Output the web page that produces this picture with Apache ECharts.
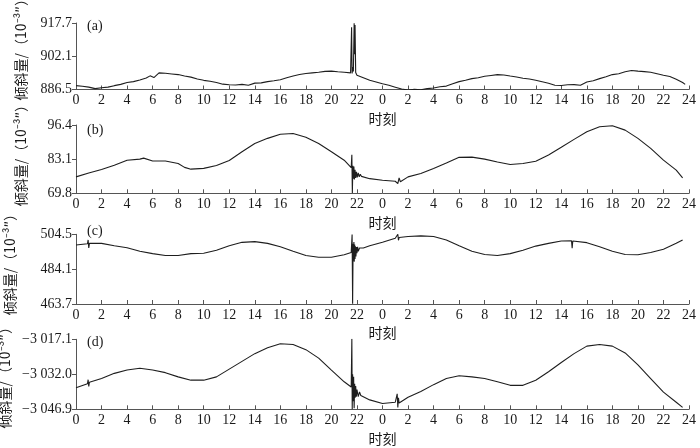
<!DOCTYPE html>
<html><head><meta charset="utf-8">
<script src="https://cdn.jsdelivr.net/npm/echarts@6/dist/echarts.min.js"></script>
<style>html,body{margin:0;padding:0;background:#fff}#c{width:700px;height:448px}</style>
</head><body><div id="c"></div>
<script>
// x tick labels (hours over two days)
const xTickLabels = ['0','2','4','6','8','10','12','14','16','18','20','22','0','2','4','6','8','10','12','14','16','18','20','22','24'];
const panelLabels = ['(a)','(b)','(c)','(d)'];
const yName = '倾斜量/（10⁻³″）';
const xName = '时刻';

// y tick values/labels per panel
const yTickValsA = [886.5, 902.1, 917.7];
const yTickLabsA = ['886.5', '902.1', '917.7'];
const yTickValsB = [69.8, 83.1, 96.4];
const yTickLabsB = ['69.8', '83.1', '96.4'];
const yTickValsC = [463.7, 484.1, 504.5];
const yTickLabsC = ['463.7', '484.1', '504.5'];
const yTickValsD = [-3046.9, -3032.0, -3017.1];
const yTickLabsD = ['−3 046.9', '−3 032.0', '−3 017.1'];

// panel (a)
const hoursA = [0,0.5,1,1.5,2,2.5,3,3.5,4,4.5,5,5.5,5.8,6.1,6.5,7,7.5,8,8.5,9,9.5,10,10.5,11,11.5,12,12.5,13,13.5,14,14.5,15,15.5,16,16.5,17,17.5,18,18.5,19,19.5,20,20.5,21,21.5,21.55,21.58,21.62,21.68,21.72,21.78,21.81,21.85,21.9,22.0,22.5,23,23.5,24,24.5,25,25.5,26,26.5,27,27.5,28,28.5,29,29.5,30,30.5,31,31.5,32,32.5,33,33.5,34,34.5,35,35.5,36,36.5,37,37.5,38,38.5,39,39.5,40,40.5,41,41.5,42,42.5,43,43.5,44,44.5,45,45.5,46,46.5,47,47.5,47.7];
const tiltA = [888.3,888.0,887.6,886.9,887.3,887.6,888.3,888.9,889.8,890.2,891.0,891.9,892.9,892.1,894.3,894.1,893.8,893.5,892.8,892.3,891.4,890.8,890.4,889.8,889.0,888.7,888.6,888.9,888.5,889.5,889.6,890.2,890.6,891.1,892.0,892.8,893.5,894.0,894.3,894.6,895.0,895.1,894.8,894.6,894.3,894.8,915.7,894.0,897.0,895.0,917.6,903.0,916.8,894.5,893.2,892.0,890.8,890.0,889.2,888.5,887.6,886.7,886.3,886.6,886.4,886.9,887.2,887.8,888.1,889.2,890.2,890.8,891.6,892.0,892.7,893.1,893.5,893.3,892.8,892.4,891.8,891.4,890.8,890.1,889.4,888.5,888.4,888.7,888.8,888.5,890.0,890.6,891.6,892.5,893.5,893.9,894.8,895.4,895.1,894.9,894.6,893.9,893.2,892.6,891.3,889.8,888.9];

// panel (b)
const hoursB = [0,1,2,3,4,5,5.3,6,7,8,8.5,9,10,11,12,13,14,15,16,17,18,19,20,21,21.55,21.6,21.64,21.68,21.72,21.76,21.8,21.85,21.9,21.96,22.02,22.1,22.18,22.26,22.35,22.5,23,24,25,25.2,25.3,25.4,26,27,28,29,30,31,32,33,34,35,36,37,38,39,40,41,42,43,44,45,46,47,47.5];
const tiltB = [76.2,77.7,79.1,80.7,82.7,83.1,83.5,82.4,82.4,81.4,79.9,79.2,79.5,80.6,82.6,86.0,89.2,91.2,92.8,93.1,91.6,89.2,86.0,82.7,79.8,84.8,69.9,80.5,75.5,80.2,75.2,79.0,75.8,78.2,76.0,77.8,76.2,77.2,76.4,76.2,75.5,74.9,74.5,73.6,75.8,74.3,76.2,77.5,79.5,81.6,83.8,83.9,83.1,82.0,81.0,81.4,82.3,84.7,87.7,90.8,93.8,95.7,96.1,94.4,91.2,87.3,82.7,78.8,75.8];

// panel (c)
const hoursC = [0,0.9,0.95,1.0,1.05,2,3,4,5,6,7,8,9,10,11,12,13,14,15,16,17,18,19,20,21,21.55,21.62,21.66,21.7,21.73,21.76,21.79,21.82,21.85,21.88,21.92,21.96,22.0,22.05,22.1,22.2,22.3,22.5,23,24,25,25.2,25.25,25.3,26,27,28,29,30,31,32,33,34,35,36,37,38,38.8,38.85,38.9,39,40,41,42,43,44,45,46,47,47.5];
const tiltC = [498.2,499.0,501.2,496.5,499.2,499.2,497.8,496.6,494.6,493.2,492.1,492.1,493.2,493.4,495.2,497.8,499.8,500.2,499.2,497.2,494.6,492.1,491.1,491.1,492.5,493.8,504.4,463.8,499.0,489.0,500.0,488.5,498.5,490.0,497.5,491.5,497.0,493.5,497.2,494.5,496.5,495.5,496.5,497.8,499.8,502.2,504.5,501.0,502.6,503.2,503.6,503.2,501.2,497.8,494.6,492.7,492.1,493.2,495.2,497.6,499.2,500.6,500.7,496.3,500.6,500.6,499.6,497.2,494.6,492.7,492.5,493.8,495.8,499.2,501.2];

// panel (d)
const hoursD = [0,0.9,0.95,1.0,1.05,2,3,4,5,6,7,8,9,10,11,12,13,14,15,16,17,18,19,20,21,21.55,21.6,21.63,21.66,21.7,21.74,21.78,21.82,21.86,21.9,21.95,22.0,22.1,22.2,22.3,23,24,25,25.15,25.2,25.25,25.3,26,27,28,29,30,31,32,33,34,35,36,37,38,39,40,41,42,43,44,45,46,47,47.5];
const tiltD = [-3037.7,-3036.0,-3034.3,-3037.2,-3035.4,-3033.8,-3031.6,-3030.2,-3029.4,-3030.2,-3031.3,-3033.1,-3034.5,-3034.5,-3033.1,-3029.8,-3026.5,-3023.2,-3020.7,-3019.0,-3019.3,-3021.5,-3025.1,-3030.2,-3035.2,-3037.4,-3016.9,-3046.9,-3032.0,-3043.5,-3033.0,-3046.5,-3036.0,-3042.0,-3037.0,-3041.5,-3038.5,-3041.5,-3039.5,-3041.0,-3042.9,-3044.4,-3043.9,-3040.3,-3046.1,-3042.0,-3044.2,-3041.8,-3039.3,-3036.4,-3033.8,-3032.6,-3033.1,-3033.8,-3035.2,-3036.7,-3036.7,-3034.5,-3030.9,-3027.0,-3023.2,-3020.0,-3019.3,-3020.0,-3022.9,-3028.0,-3033.8,-3039.6,-3043.9,-3046.1];

const zip = (xs, ys) => xs.map((x, i) => [x, ys[i]]);
const NUMFONT = "'Liberation Serif', 'Noto Sans CJK SC', serif";
const CJKFONT = "'Noto Sans CJK SC', sans-serif";
const TXT = '#1a1a1a';
const AX = '#555';

const panels = [
  {hours: hoursA, vals: tiltA, tv: yTickValsA, tl: yTickLabsA, top: 23, h: 66.5, gap: 48, pad: 20},
  {hours: hoursB, vals: tiltB, tv: yTickValsB, tl: yTickLabsB, top: 125, h: 68.3, gap: 48, pad: 14},
  {hours: hoursC, vals: tiltC, tv: yTickValsC, tl: yTickLabsC, top: 234.3, h: 69.7, gap: 59, pad: 16},
  {hours: hoursD, vals: tiltD, tv: yTickValsD, tl: yTickLabsD, top: 339.3, h: 70, gap: 59, pad: 0}
];

const grid = [], xAxis = [], yAxis = [], series = [], title = [];
panels.forEach((p, i) => {
  grid.push({left: 76, right: 11, top: p.top, height: p.h, containLabel: false, outerBoundsMode: 'none'});
  xAxis.push({
    type: 'value', gridIndex: i, min: 0, max: 48, interval: 2,
    name: xName, nameLocation: 'middle', nameGap: 22,
    nameTextStyle: {fontFamily: CJKFONT, fontSize: 14, color: TXT},
    axisLine: {show: true, lineStyle: {color: AX, width: 1}},
    axisTick: {show: true, inside: true, length: 4, lineStyle: {color: AX}},
    axisLabel: {fontFamily: NUMFONT, fontSize: 14, color: TXT, margin: 4,
      formatter: v => xTickLabels[Math.round(v / 2)]},
    splitLine: {show: false}
  });
  const tv = p.tv, tl = p.tl;
  yAxis.push({
    type: 'value', gridIndex: i, min: tv[0], max: tv[2],
    name: yName, nameLocation: 'middle', nameGap: p.gap, nameRotate: 90,
    nameTextStyle: {fontFamily: CJKFONT, fontSize: 14, color: TXT, padding: [0, 0, 0, p.pad]},
    axisLine: {show: true, lineStyle: {color: AX, width: 1}},
    axisTick: {show: true, inside: false, length: 4, lineStyle: {color: AX}, customValues: tv},
    axisLabel: {fontFamily: NUMFONT, fontSize: 14, color: TXT, margin: 4, customValues: tv,
      formatter: v => {
        let best = 0;
        tv.forEach((t, k) => { if (Math.abs(t - v) < Math.abs(tv[best] - v)) best = k; });
        return tl[best];
      }},
    splitLine: {show: false}
  });
  series.push({
    type: 'line', xAxisIndex: i, yAxisIndex: i, data: zip(p.hours, p.vals),
    showSymbol: false, symbol: 'none', lineStyle: {color: '#1e1e1e', width: 1.1},
    animation: false, clip: true
  });
  title.push({text: panelLabels[i], left: 82, top: [14, 118, 219, 330][i],
    textStyle: {fontFamily: NUMFONT, fontSize: 14, fontWeight: 'normal', color: TXT}});
});

const chart = echarts.init(document.getElementById('c'), null, {renderer: 'canvas'});
chart.setOption({backgroundColor: '#fff', animation: false, title, grid, xAxis, yAxis, series});
</script>
</body></html>
